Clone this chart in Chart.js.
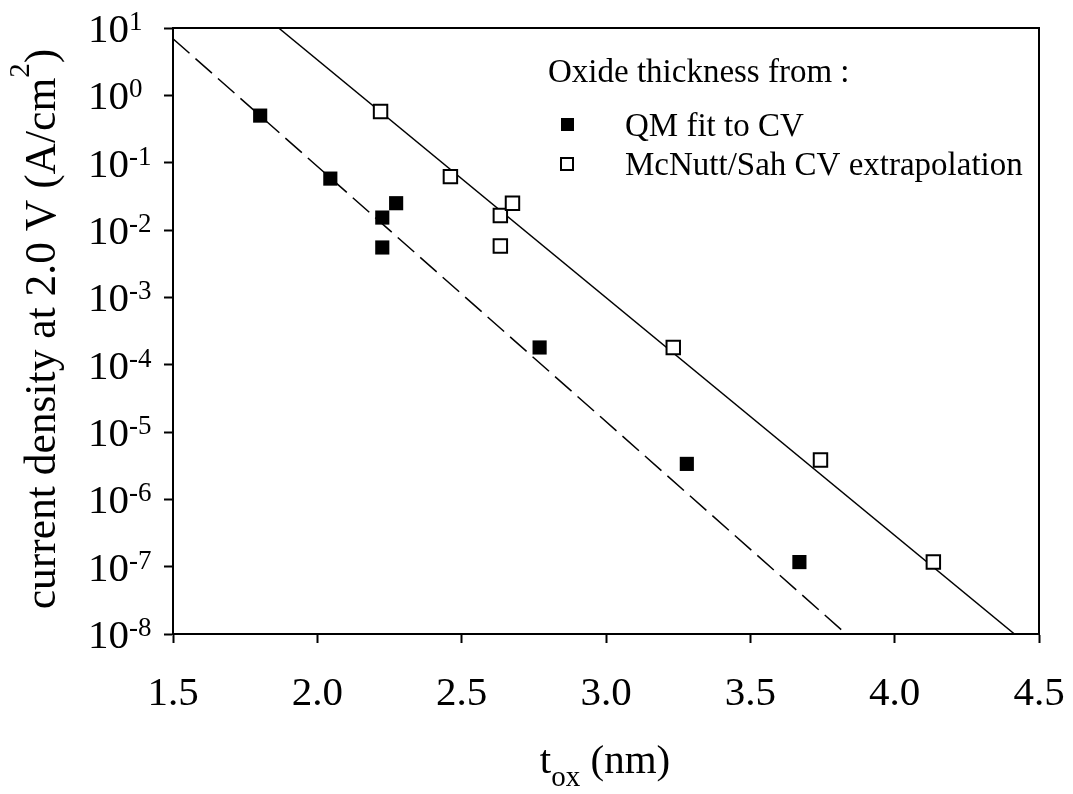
<!DOCTYPE html>
<html>
<head>
<meta charset="utf-8">
<script src="https://cdn.jsdelivr.net/npm/chart.js@4.4.1/dist/chart.umd.min.js"></script>
<style>
  html, body { margin: 0; padding: 0; background: #fff; }
  #main-chart { display: block; }
</style>
</head>
<body>
<canvas id="main-chart" width="1073" height="794"></canvas>
<script>
// tick values
var xTicks = [1.5, 2.0, 2.5, 3.0, 3.5, 4.0, 4.5];
var yExponents = [1, 0, -1, -2, -3, -4, -5, -6, -7, -8];

// oxide thickness from QM fit to CV (filled squares)
var qmX = [1.802, 2.045, 2.225, 2.225, 2.273, 2.770, 3.280, 3.670];
var qmY = [0.50, 0.058, 0.0153, 0.0055, 0.025, 1.8e-4, 3.36e-6, 1.17e-7];

// oxide thickness from McNutt/Sah CV extrapolation (open squares)
var mcX = [2.219, 2.461, 2.634, 2.634, 2.676, 3.233, 3.743, 4.134];
var mcY = [0.577, 0.062, 0.0164, 0.0058, 0.025, 1.8e-4, 3.85e-6, 1.17e-7];

// fitted lines, end points
var qmFitX = [1.5, 3.832];
var qmFitY = [6.93, 1e-8];
var mcFitX = [1.866, 4.415];
var mcFitY = [10, 1e-8];

var legendTitle = 'Oxide thickness from :';
var legendLabels = ['QM fit to CV', 'McNutt/Sah CV extrapolation'];

var FONT = '"Liberation Serif", "Times New Roman", serif';

function pairs(xs, ys) {
	return xs.map(function (x, i) { return { x: x, y: ys[i] }; });
}

// draw a run of text pieces, each {t, size, dy}
function drawRuns(ctx, runs, x, y, align) {
	var total = 0;
	runs.forEach(function (r) {
		ctx.font = r.size + 'px ' + FONT;
		r.w = ctx.measureText(r.t).width;
		total += r.w;
	});
	var cx = align === 'center' ? x - total / 2 : x;
	ctx.textAlign = 'left';
	ctx.textBaseline = 'alphabetic';
	runs.forEach(function (r) {
		ctx.font = r.size + 'px ' + FONT;
		ctx.fillText(r.t, cx, y + (r.dy || 0));
		cx += r.w;
	});
}

var textPlugin = {
	id: 'textPlugin',
	afterDraw: function (chart) {
		var ctx = chart.ctx;
		var area = chart.chartArea;
		var xs = chart.scales.x, ys = chart.scales.y;
		ctx.save();
		ctx.fillStyle = '#000';
		ctx.strokeStyle = '#000';

		// box: top and right edges
		ctx.lineWidth = 2;
		ctx.beginPath();
		ctx.moveTo(area.left, area.top);
		ctx.lineTo(area.right, area.top);
		ctx.lineTo(area.right, area.bottom);
		ctx.stroke();

		// x tick labels
		ctx.font = '41px ' + FONT;
		ctx.textAlign = 'center';
		ctx.textBaseline = 'alphabetic';
		xTicks.forEach(function (v) {
			ctx.fillText(v.toFixed(1), xs.getPixelForValue(v), 705);
		});

		// y tick labels with superscripts
		yExponents.forEach(function (e) {
			var py = ys.getPixelForValue(Math.pow(10, e));
			drawRuns(ctx, [
				{ t: '10', size: 41, dy: 14 },
				{ t: String(e), size: 27, dy: 2 }
			], 88, py, 'left');
		});

		// x title
		drawRuns(ctx, [
			{ t: 't', size: 41, dy: 0 },
			{ t: 'ox', size: 29, dy: 13 },
			{ t: ' (nm)', size: 41, dy: 0 }
		], 605, 773, 'center');

		// y title
		ctx.save();
		ctx.translate(55, 329);
		ctx.rotate(-Math.PI / 2);
		drawRuns(ctx, [
			{ t: 'current density at 2.0 V (A/cm', size: 43.5, dy: 0 },
			{ t: '2', size: 29, dy: -26 },
			{ t: ')', size: 43.5, dy: 0 }
		], 0, 0, 'center');
		ctx.restore();

		// legend
		ctx.font = '33px ' + FONT;
		ctx.textAlign = 'left';
		ctx.fillText(legendTitle, 548, 82);
		ctx.fillText(legendLabels[0], 625, 136);
		ctx.fillText(legendLabels[1], 625, 175);
		ctx.fillRect(561, 118, 13, 13);
		ctx.lineWidth = 2;
		ctx.strokeRect(561, 158, 12, 12);

		ctx.restore();
	}
};

var ctx = document.getElementById('main-chart');
new Chart(ctx, {
	type: 'scatter',
	data: {
		datasets: [
			{
				label: legendLabels[0],
				data: pairs(qmX, qmY),
				pointStyle: 'rect',
				pointRadius: 10,
				backgroundColor: '#000',
				borderColor: '#000',
				borderWidth: 0
			},
			{
				label: legendLabels[1],
				data: pairs(mcX, mcY),
				pointStyle: 'rect',
				pointRadius: 9.5,
				backgroundColor: '#fff',
				borderColor: '#000',
				borderWidth: 2
			},
			{
				label: 'QM fit',
				data: pairs(qmFitX, qmFitY),
				showLine: true,
				pointRadius: 0,
				borderColor: '#000',
				borderWidth: 1.5,
				borderDash: [22, 8]
			},
			{
				label: 'McNutt/Sah fit',
				data: pairs(mcFitX, mcFitY),
				showLine: true,
				pointRadius: 0,
				borderColor: '#000',
				borderWidth: 1.5
			}
		]
	},
	options: {
		responsive: false,
		animation: false,
		layout: { padding: { left: 164, right: 34, top: 28, bottom: 151 } },
		plugins: {
			legend: { display: false },
			tooltip: { enabled: false }
		},
		scales: {
			x: {
				type: 'linear',
				min: 1.5,
				max: 4.5,
				afterBuildTicks: function (scale) {
					scale.ticks = xTicks.map(function (v) { return { value: v }; });
				},
				ticks: { display: false },
				grid: { drawOnChartArea: false, drawTicks: true, tickLength: 9, tickWidth: 2, tickColor: '#000' },
				border: { display: true, color: '#000', width: 2 }
			},
			y: {
				type: 'logarithmic',
				min: 1e-8,
				max: 10,
				afterBuildTicks: function (scale) {
					scale.ticks = yExponents.map(function (e) { return { value: Math.pow(10, e) }; });
				},
				ticks: { display: false },
				grid: { drawOnChartArea: false, drawTicks: true, tickLength: 9, tickWidth: 2, tickColor: '#000' },
				border: { display: true, color: '#000', width: 2 }
			}
		}
	},
	plugins: [textPlugin]
});
</script>
</body>
</html>
